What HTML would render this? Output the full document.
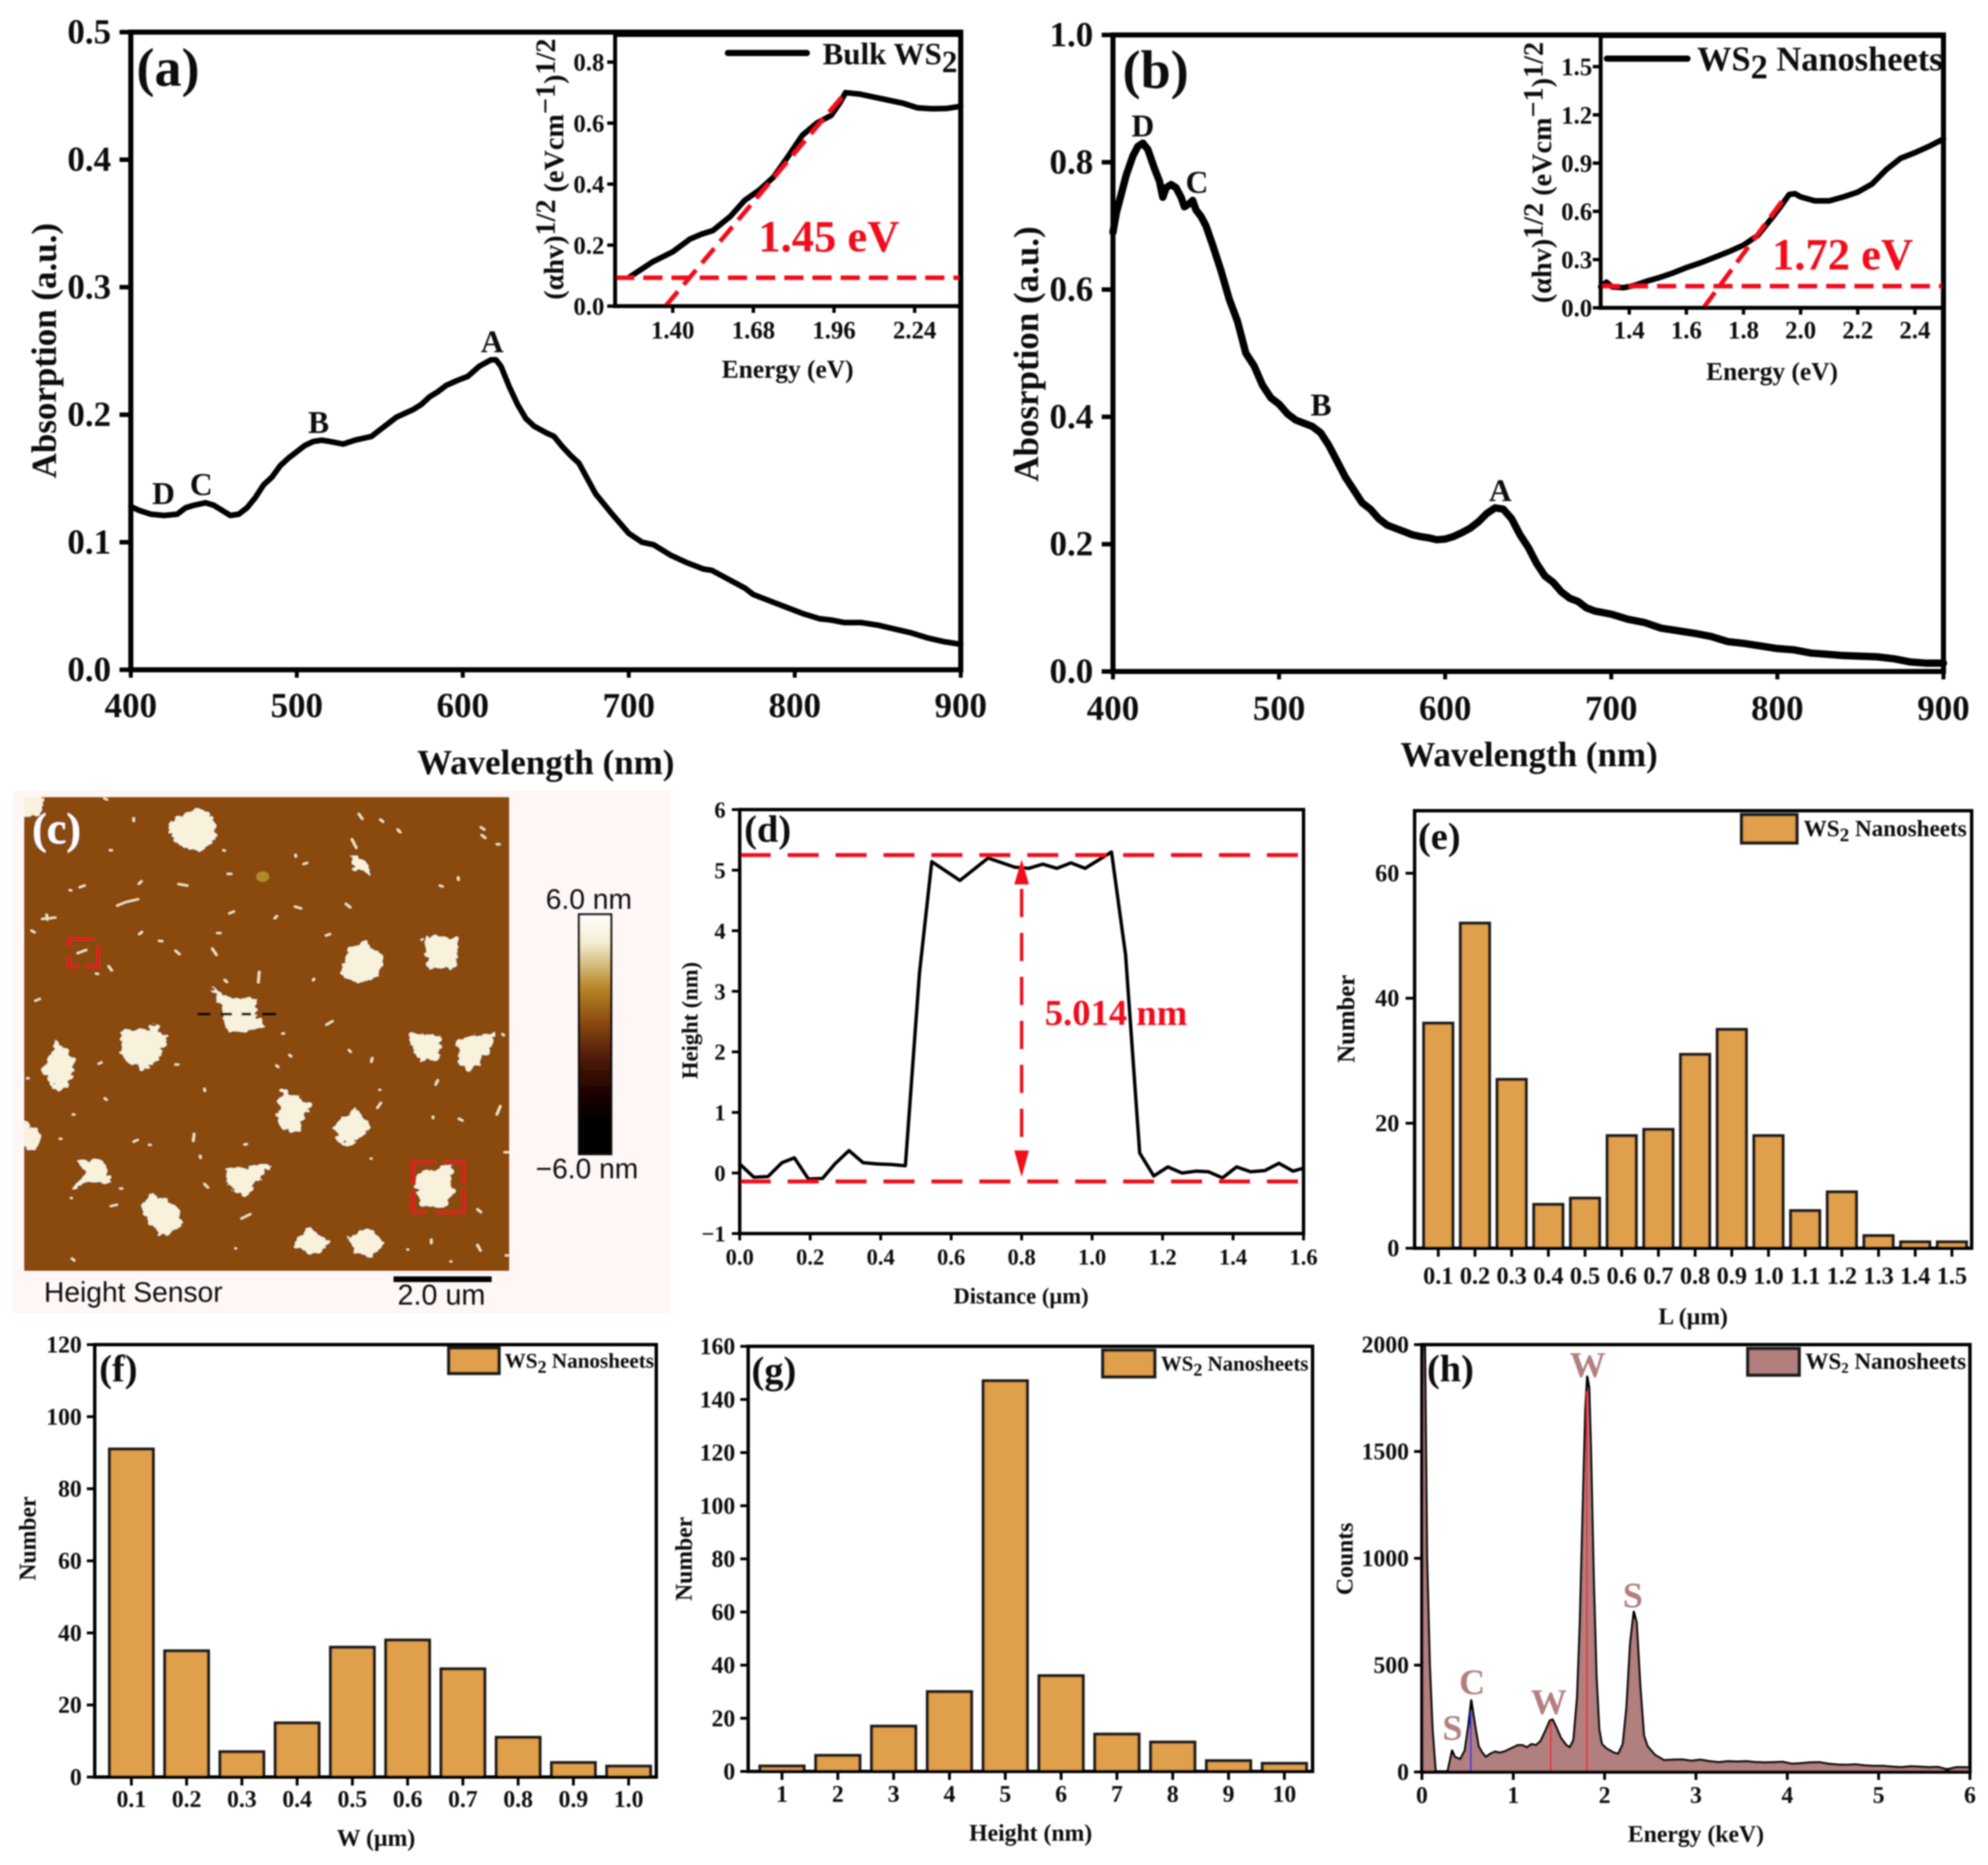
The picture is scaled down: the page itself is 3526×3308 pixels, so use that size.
<!DOCTYPE html>
<html lang="en">
<head>
<meta charset="utf-8">
<title>WS2 nanosheet characterisation figure</title>
<style>
html,body{margin:0;padding:0;background:#fff}
svg{display:block;font-family:"Liberation Serif","DejaVu Serif",serif;font-weight:700}
text{fill:#111}
.red{fill:#f0101c}
.el{fill:#b27f7f}
.sans{font-family:"Liberation Sans","DejaVu Sans",sans-serif;font-weight:400}
</style>
</head>
<body>
<svg id="figure" xmlns="http://www.w3.org/2000/svg" width="3526" height="3308" viewBox="0 0 3526 3308">
<defs>
<linearGradient id="afmScale" x1="0" y1="0" x2="0" y2="1">
<stop offset="0" stop-color="#ffffff"/><stop offset=".12" stop-color="#f3ecd0"/><stop offset=".3" stop-color="#b98a2a"/><stop offset=".45" stop-color="#8b4a0f"/><stop offset=".6" stop-color="#4f1a08"/><stop offset=".72" stop-color="#260602"/><stop offset=".85" stop-color="#000"/><stop offset="1" stop-color="#000"/>
</linearGradient>
<clipPath id="clipH"><rect x="2522" y="2385" width="972" height="758"/></clipPath>
<clipPath id="clipAfm"><rect x="43" y="1414" width="860" height="840"/></clipPath>
<filter id="soft" x="-2%" y="-2%" width="104%" height="104%"><feGaussianBlur stdDeviation="1.3"/></filter>
<filter id="jagged" x="-5%" y="-5%" width="110%" height="110%"><feTurbulence type="fractalNoise" baseFrequency="0.055" numOctaves="2" seed="4" result="n"/><feDisplacementMap in="SourceGraphic" in2="n" scale="26" xChannelSelector="R" yChannelSelector="G"/></filter>
</defs>
<rect width="3526" height="3308" fill="#fff"/>
<rect x="23" y="1402" width="1167" height="928" fill="#fff6f6"/>

<g id="root" filter="url(#soft)">

<g id="panel-a">
<text x="242" y="152" font-size="96">(a)</text>
<text x="968" y="1373" font-size="62" text-anchor="middle">Wavelength (nm)</text>
<text transform="translate(99 622) rotate(-90)" font-size="62" text-anchor="middle">Absorption (a.u.)</text>
<text x="873" y="625" font-size="56" text-anchor="middle">A</text>
<text x="565" y="768" font-size="56" text-anchor="middle">B</text>
<text x="357" y="878" font-size="56" text-anchor="middle">C</text>
<text x="290" y="894" font-size="56" text-anchor="middle">D</text>
</g>
<g id="inset-a">
<text x="1397" y="670" font-size="45" text-anchor="middle">Energy (eV)</text>
<text transform="translate(999 300) rotate(-90)" font-size="50" text-anchor="middle">(αhv)<tspan dy="-15">1/2</tspan><tspan dy="15"> (eVcm</tspan><tspan dy="-15">−1</tspan><tspan dy="15">)</tspan><tspan dy="-15">1/2</tspan></text>
<line x1="1291" y1="94" x2="1431" y2="94" stroke="#000" stroke-width="11" stroke-linecap="round"/>
<text x="1459" y="114" font-size="55">Bulk WS<tspan dy="14">2</tspan></text>
<text x="1345" y="446" font-size="79" class="red">1.45 eV</text>
</g>

<g id="panel-b">
<text x="1991" y="156" font-size="96">(b)</text>
<text x="2712" y="1359" font-size="62" text-anchor="middle">Wavelength (nm)</text>
<text transform="translate(1841 628) rotate(-90)" font-size="62" text-anchor="middle">Abosrption (a.u.)</text>
<text x="2661" y="889" font-size="56" text-anchor="middle">A</text>
<text x="2343" y="737" font-size="56" text-anchor="middle">B</text>
<text x="2123" y="342" font-size="56" text-anchor="middle">C</text>
<text x="2027" y="242" font-size="56" text-anchor="middle">D</text>
</g>
<g id="inset-b">
<text x="3143" y="674" font-size="45" text-anchor="middle">Energy (eV)</text>
<text transform="translate(2751 306) rotate(-90)" font-size="50" text-anchor="middle">(αhv)<tspan dy="-15">1/2</tspan><tspan dy="15"> (eVcm</tspan><tspan dy="-15">−1</tspan><tspan dy="15">)</tspan><tspan dy="-15">1/2</tspan></text>
<line x1="2850" y1="104" x2="2993" y2="104" stroke="#000" stroke-width="11" stroke-linecap="round"/>
<text x="3010" y="125" font-size="61">WS<tspan dy="14">2</tspan><tspan dy="-14"> Nanosheets</tspan></text>
<text x="3143" y="478" font-size="79" class="red">1.72 eV</text>
</g>

<g id="panel-c">
<rect x="43" y="1414" width="860" height="840" fill="#8a4a10"/>
<g clip-path="url(#clipAfm)">
<g transform="translate(0 1380) scale(.765 .625)">
<g fill="#f8f2dc" filter="url(#jagged)">
<polygon points="395,125 430,100 455,85 475,95 497,115 497,175 475,205 425,198 398,165"/>
<polygon points="810,218 845,230 862,278 820,255"/>
<polygon points="788,560 810,485 845,465 888,505 882,560 830,580"/>
<polygon points="982,452 1065,452 1058,538 995,543"/>
<polygon points="490,590 535,625 590,625 597,682 618,705 560,720 525,720 512,650"/>
<polygon points="282,720 345,712 358,695 388,738 372,795 330,830 282,790"/>
<polygon points="98,830 130,745 172,798 162,865 135,890"/>
<polygon points="952,722 1028,735 1012,798 975,805 950,760"/>
<polygon points="1062,740 1148,722 1132,785 1092,832 1058,802"/>
<polygon points="655,885 722,925 698,972 698,1008 655,998 638,960"/>
<polygon points="772,990 820,935 862,990 818,1042 785,1032"/>
<polygon points="50,962 100,1015 78,1058 50,1048"/>
<polygon points="178,1082 240,1088 258,1148 205,1148 168,1168 198,1125"/>
<polygon points="520,1108 622,1102 592,1155 568,1190 528,1155"/>
<polygon points="968,1125 1052,1098 1038,1150 1052,1172 1030,1222 980,1212 962,1165"/>
<polygon points="328,1212 350,1180 405,1210 428,1268 375,1298 340,1250"/>
<polygon points="688,1302 720,1272 768,1320 738,1352 688,1335"/>
<polygon points="812,1302 850,1278 892,1315 862,1362 820,1345"/>
<polygon points="50,50 100,54 90,105 50,110"/>
</g>
<circle cx="609" cy="280" r="15" fill="#b08a2a"/>
<path d="M180 497l20-9M310 114l0 8M832 102l8 14M882 118l6 6M922 146l6 8M1115 140l8 6M1117 162l8 8M1152 188l6 0M816 174l10 24M242 58l6 3M255 205l4 0M518 205l3 1M685 218l1 5M704 244l8-3M528 272l8 0M1062 282l1 7M414 301l20 4M185 310l11-5M322 300l6-7M162 318l3 1M272 362l20-10 28-8M1020 305l6 3M684 365l14 5M802 357l10 10M532 384l10-5M98 400l30-4M108 388l2 14M637 398l5-6M323 443l6-6M73 433l7 5M504 440l7 0M369 462l7 1M756 447l9-4M407 490l9 10M492 484l10 18M252 534l7 12M223 555l4 1M521 573l5 6M601 550l-2 30M728 570l-2 4M82 632l10-5M757 700l14-10M655 725l3 0M809 772l4 5M861 805l2-10M229 811l6-4M407 813l6 0M63 852l3 0M1010 870l5-12M474 882l1 6M875 936l8-14M1152 955l8-24M243 909l4 4M169 955l3 0M1064 967l8 5M1004 961l0 4M310 1032l9-5M346 1041l3 0M448 1030l2-20M139 1024l3 0M567 1040l5-1M464 1072l1 6M474 1152l8 10M279 1165l4 0M165 1192l1 0M257 1215l14-4M1107 1224l8 8M1170 1062l8 0M1107 1325l7 16M1000 1310l0 10M945 1338l1 0M546 1335l1 0M167 1364l5 5M1045 1372l1 0M1173 1355l4 0M1165 727l3 3M641 816l4 4M980 1090l1 0M671 786l4 4M860 1080l1 0M880 885l1 0M560 1250l20-12" fill="none" stroke="#f0e2b8" stroke-width="6" stroke-linecap="round"/>
<path d="M160 480V457H218M228 478V535H196M182 535H160V505" fill="none" stroke="#ee1020" stroke-width="7"/>
<path d="M957 1150V1090H1010M1028 1090H1075V1150M1075 1165V1232H1010M990 1232H957V1170" fill="none" stroke="#ee1020" stroke-width="7"/>
<path d="M458 670H488M512 670H538M560 670H582M608 670H640" fill="none" stroke="#000" stroke-width="8"/>
</g>
</g>
<text x="57" y="1496" font-size="78" style="fill:#fff">(c)</text>
<rect x="1027" y="1622" width="57" height="425" fill="url(#afmScale)" stroke="#111" stroke-width="4"/>
<text x="968" y="1612" font-size="50" class="sans">6.0 nm</text>
<text x="950" y="2090" font-size="50" class="sans">−6.0 nm</text>
<text x="78" y="2309" font-size="50" class="sans">Height Sensor</text>
<line x1="698" y1="2269" x2="872" y2="2269" stroke="#000" stroke-width="10"/>
<text x="705" y="2314" font-size="51" class="sans">2.0 um</text>
</g>

<g id="panel-d">
<text x="1320" y="1493" font-size="68">(d)</text>
<text x="1811" y="2312" font-size="40" text-anchor="middle">Distance (µm)</text>
<text transform="translate(1237 1810) rotate(-90)" font-size="40" text-anchor="middle">Height (nm)</text>
<text x="1853" y="1818" font-size="65" class="red">5.014 nm</text>
</g>

<g id="panel-e">
<text x="2515" y="1506" font-size="68">(e)</text>
<text x="3003" y="2349" font-size="42" text-anchor="middle">L (µm)</text>
<text transform="translate(2402 1807) rotate(-90)" font-size="44" text-anchor="middle">Number</text>
<rect x="3089" y="1445" width="98" height="50" fill="#e09f4c" stroke="#1a1a1a" stroke-width="6"/>
<text x="3199" y="1483" font-size="41">WS<tspan dy="9" font-size="34">2</tspan><tspan dy="-9"> Nanosheets</tspan></text>
</g>

<g id="panel-f">
<text x="176" y="2450" font-size="68">(f)</text>
<text x="667" y="3274" font-size="42" text-anchor="middle">W (µm)</text>
<text transform="translate(63 2729) rotate(-90)" font-size="42" text-anchor="middle">Number</text>
<rect x="796" y="2391" width="89" height="45" fill="#e09f4c" stroke="#1a1a1a" stroke-width="6"/>
<text x="895" y="2426" font-size="37.5">WS<tspan dy="9" font-size="32">2</tspan><tspan dy="-9"> Nanosheets</tspan></text>
</g>

<g id="panel-g">
<text x="1333" y="2453" font-size="68">(g)</text>
<text x="1828" y="3265" font-size="42" text-anchor="middle">Height (nm)</text>
<text transform="translate(1227 2765) rotate(-90)" font-size="42" text-anchor="middle">Number</text>
<rect x="1956" y="2395" width="92" height="47" fill="#e09f4c" stroke="#1a1a1a" stroke-width="6"/>
<text x="2059" y="2431" font-size="37">WS<tspan dy="9" font-size="32">2</tspan><tspan dy="-9"> Nanosheets</tspan></text>
</g>

<g id="panel-h">
<text x="2531" y="2450" font-size="68">(h)</text>
<text x="3008" y="3267" font-size="42" text-anchor="middle">Energy (keV)</text>
<text transform="translate(2399 2765) rotate(-90)" font-size="42" text-anchor="middle">Counts</text>
<rect x="3100" y="2392" width="91" height="47" fill="#b27f7f" stroke="#1a1a1a" stroke-width="6"/>
<text x="3202" y="2428" font-size="41">WS<tspan dy="7" font-size="26">2</tspan><tspan dy="-7"> Nanosheets</tspan></text>
<g id="h-labels">
<text x="2816" y="2442" font-size="64" text-anchor="middle" class="el">W</text>
<text x="2896" y="2851" font-size="64" text-anchor="middle" class="el">S</text>
<text x="2611" y="3005" font-size="64" text-anchor="middle" class="el">C</text>
<text x="2747" y="3040" font-size="64" text-anchor="middle" class="el">W</text>
<text x="2576" y="3086" font-size="64" text-anchor="middle" class="el">S</text>
</g>
</g>
</g>

<script>
// ---------- Panel (a) ----------
const aXLabels=['400','500','600','700','800','900'];
const aYLabels=['0.0','0.1','0.2','0.3','0.4','0.5'];
const aWavelength=[400,405,412,420,428,433,438,445,450,455,460,465,470,475,480,485,490,495,500,505,510,515,520,528,535,545,550,555,560,570,575,580,585,590,597,603,610,617,620,623,628,633,638,643,650,655,660,665,670,675,680,690,700,708,715,725,735,745,750,760,770,775,785,795,805,815,822,830,840,850,860,870,880,890,900];
const aAbsorption=[.128,.125,.122,.121,.122,.127,.129,.131,.129,.125,.121,.122,.127,.135,.145,.151,.160,.166,.171,.176,.179,.180,.179,.177,.180,.183,.188,.193,.198,.204,.208,.214,.218,.223,.227,.230,.238,.243,.243,.238,.222,.208,.197,.191,.186,.183,.175,.168,.162,.150,.138,.122,.107,.100,.098,.090,.084,.079,.078,.071,.064,.059,.054,.049,.044,.040,.039,.037,.037,.035,.032,.029,.025,.022,.020];
const aInsetXLabels=['1.40','1.68','1.96','2.24'];
const aInsetYLabels=['0.0','0.2','0.4','0.6','0.8'];
const aInsetEnergy=[1.25,1.33,1.4,1.46,1.5,1.54,1.6,1.65,1.7,1.75,1.8,1.85,1.9,1.95,1.98,2.0,2.05,2.1,2.15,2.2,2.25,2.3,2.35,2.4];
const aInsetTauc=[.095,.145,.178,.22,.236,.248,.294,.347,.38,.423,.49,.56,.6,.625,.666,.7,.695,.685,.675,.665,.65,.647,.648,.655];
const aInsetBaseline=[.093];
const aInsetFitE=[1.375,2.0];
const aInsetFitY=[0,.7];
// ---------- Panel (b) ----------
const bXLabels=['400','500','600','700','800','900'];
const bYLabels=['0.0','0.2','0.4','0.6','0.8','1.0'];
const bWavelength=[400,402,405,408,412,415,418,421,425,428,430,432,435,438,441,443,446,448,450,453,456,460,465,470,475,480,485,490,495,500,505,510,515,520,525,530,535,540,545,550,555,560,565,570,575,580,585,590,595,600,605,610,615,620,625,630,635,640,645,650,655,660,665,670,675,680,685,690,700,710,720,730,740,750,760,770,780,790,800,810,820,830,840,850,860,870,880,890,900];
const bAbsorption=[.69,.72,.75,.78,.81,.825,.83,.82,.79,.77,.745,.76,.765,.76,.745,.73,.735,.74,.725,.715,.7,.67,.63,.585,.55,.5,.48,.45,.43,.42,.405,.395,.39,.385,.375,.355,.33,.305,.285,.265,.255,.24,.23,.225,.22,.215,.212,.21,.207,.208,.212,.218,.225,.235,.248,.257,.255,.24,.215,.195,.17,.15,.14,.125,.115,.11,.1,.095,.09,.082,.077,.068,.064,.06,.055,.047,.044,.04,.036,.034,.029,.027,.025,.024,.023,.02,.015,.013,.013];
const bInsetXLabels=['1.4','1.6','1.8','2.0','2.2','2.4'];
const bInsetYLabels=['0.0','0.3','0.6','0.9','1.2','1.5'];
const bInsetEnergy=[1.3,1.32,1.34,1.38,1.42,1.46,1.5,1.55,1.6,1.65,1.7,1.75,1.8,1.85,1.9,1.93,1.96,1.98,2.0,2.05,2.1,2.15,2.2,2.25,2.3,2.35,2.4,2.45,2.5];
const bInsetTauc=[.13,.16,.13,.125,.14,.165,.185,.215,.25,.28,.315,.35,.39,.45,.56,.63,.705,.71,.69,.665,.665,.69,.72,.77,.86,.93,.965,1.005,1.05];
const bInsetBaseline=[.135];
const bInsetFitE=[1.66,1.95];
const bInsetFitY=[0,.7];
// ---------- Panel (d) ----------
const dXLabels=['0.0','0.2','0.4','0.6','0.8','1.0','1.2','1.4','1.6'];
const dYLabels=['−1','0','1','2','3','4','5','6'];
const dDistance=[0,.04,.08,.12,.155,.195,.235,.27,.31,.35,.39,.43,.47,.51,.545,.625,.705,.78,.82,.86,.9,.94,.98,1.055,1.095,1.135,1.175,1.215,1.255,1.295,1.33,1.37,1.41,1.45,1.49,1.53,1.57,1.6];
const dHeight=[.15,-.07,-.06,.17,.25,-.1,-.09,.15,.37,.17,.15,.14,.12,3.3,5.14,4.83,5.2,5.05,5.03,5.1,5.03,5.12,5.03,5.3,3.6,.33,-.05,.1,0,.03,.02,-.08,.1,.02,.04,.16,.03,.08];
const dLevels=[5.25,-.14];
const dArrowAt=[.8];
// ---------- Panel (e) ----------
const eCategories=['0.1','0.2','0.3','0.4','0.5','0.6','0.7','0.8','0.9','1.0','1.1','1.2','1.3','1.4','1.5'];
const eCounts=[36,52,27,7,8,18,19,31,35,18,6,9,2,1,1];
const eYLabels=['0','20','40','60'];
// ---------- Panel (f) ----------
const fCategories=['0.1','0.2','0.3','0.4','0.5','0.6','0.7','0.8','0.9','1.0'];
const fCounts=[91,35,7,15,36,38,30,11,4,3];
const fYLabels=['0','20','40','60','80','100','120'];
// ---------- Panel (g) ----------
const gCategories=['1','2','3','4','5','6','7','8','9','10'];
const gCounts=[2,6,17,30,147,36,14,11,4,3];
const gYLabels=['0','20','40','60','80','100','120','140','160'];
// ---------- Panel (h) ----------
const hXLabels=['0','1','2','3','4','5','6'];
const hYLabels=['0','500','1000','1500','2000'];
const hEnergy=[0,.03,.055,.085,.115,.15,.28,.33,.36,.42,.47,.51,.54,.58,.62,.66,.7,.75,.8,.85,.9,1,1.05,1.1,1.15,1.2,1.25,1.3,1.35,1.4,1.43,1.47,1.52,1.58,1.62,1.66,1.7,1.73,1.76,1.79,1.81,1.83,1.85,1.88,1.91,1.94,1.97,2.02,2.1,2.15,2.2,2.24,2.28,2.32,2.35,2.39,2.43,2.47,2.55,2.65,2.75,2.85,2.95,3.05,3.15,3.25,3.35,3.45,3.55,3.65,3.75,3.85,3.95,4.05,4.15,4.25,4.35,4.45,4.55,4.65,4.75,4.85,4.95,5.05,5.15,5.25,5.35,5.45,5.55,5.65,5.75,5.85,5.95,6];
const hCounts=[2100,2100,1000,500,200,0,0,100,70,60,100,220,335,220,120,90,70,85,95,90,95,115,125,125,115,130,125,145,190,240,245,210,160,125,115,150,350,700,1200,1700,1850,1800,1500,900,450,200,130,110,90,85,130,300,600,750,700,400,170,120,80,55,57,58,52,57,50,45,50,48,50,46,44,45,47,38,40,44,45,38,34,33,35,30,28,28,24,22,26,24,22,23,12,22,22,20];
const hPeakEnergies=[.535,1.41,1.805];
const hPeakTops=[280,235,1780];

const NS='http://www.w3.org/2000/svg';
function node(parent,tag,attrs){
  const el=document.createElementNS(NS,tag);
  for(const k in attrs){el.setAttribute(k,attrs[k]);}
  parent.appendChild(el);
  return el;
}
function scale(d0,d1,r0,r1){return v=>r0+(v-d0)*(r1-r0)/(d1-d0);}
function num(s){return parseFloat(String(s).replace('−','-'));}
function poly(xs,ys,sx,sy){return xs.map((x,i)=>sx(x).toFixed(1)+','+sy(ys[i]).toFixed(1)).join(' ');}

function tickY(parent,labels,sy,x0,opt,prefix){
  labels.forEach(l=>{
    const y=sy(num(l));
    const t=node(parent,'line',{x1:x0-opt.len,x2:x0,y1:y,y2:y,stroke:'#000','stroke-width':opt.sw});
    
    
    const el=node(parent,'text',{x:opt.end,y:y+opt.dy,'font-size':opt.fs,'text-anchor':'end'});
    el.textContent=l;
    
    
  });
}
function tickX(parent,labels,sx,y0,opt,prefix){
  labels.forEach(l=>{
    const x=sx(num(l));
    const t=node(parent,'line',{x1:x,x2:x,y1:y0,y2:y0+opt.len,stroke:'#000','stroke-width':opt.sw});
    
    
    const el=node(parent,'text',{x:x,y:opt.base,'font-size':opt.fs,'text-anchor':'middle'});
    el.textContent=l;
    
    
  });
}
function frame(parent,l,t,r,b,sw,prefix){
  const el=node(parent,'rect',{x:l,y:t,width:r-l,height:b-t,fill:'none',stroke:'#000','stroke-width':sw});
  
  
}
function curve(parent,xs,ys,sx,sy,sw,name){
  const el=node(parent,'polyline',{points:poly(xs,ys,sx,sy),fill:'none',stroke:'#000','stroke-width':sw,'stroke-linejoin':'round','stroke-linecap':'round'});
  
  
}
function dashed(parent,x1,y1,x2,y2,sw,dash,name){
  const el=node(parent,'line',{x1:x1,y1:y1,x2:x2,y2:y2,stroke:'#f0101c','stroke-width':sw,'stroke-dasharray':dash});
  
  
}
function histogram(parent,cats,counts,yLabels,box,ymax,cat0,catN,prefix,tick){
  const sx=scale(num(cats[0]),num(cats[cats.length-1]),cat0,catN);
  const sy=scale(0,ymax,box.b,box.t);
  const step=(catN-cat0)/(cats.length-1);
  counts.forEach((v,i)=>{
    const cx=sx(num(cats[i])),w=step*.79;
    const bar=node(parent,'rect',{x:cx-w/2,y:sy(v),width:w,height:box.b-sy(v),fill:'#e09f4c',stroke:'#1a1a1a','stroke-width':5.5});
    
    
  });
  tickY(parent,yLabels,sy,box.l,tick.y,prefix);
  tickX(parent,cats,sx,box.b,tick.x,prefix);
  frame(parent,box.l,box.t,box.r,box.b,6,prefix);
}

// Panel (a)
(function(){
  const g=document.getElementById('panel-a');
  const sx=scale(400,900,232,1704),sy=scale(0,.5,1188,57);
  curve(g,aWavelength,aAbsorption,sx,sy,10,'bulk-ws2-absorption-curve');
  tickY(g,aYLabels,sy,232,{len:20,sw:8,end:197,dy:20,fs:62},'panel-a');
  tickX(g,aXLabels,sx,1188,{len:14,sw:7,base:1272,fs:62},'panel-a');
  frame(g,232,57,1704,1188,9,'panel-a');
  const ig=document.getElementById('inset-a');
  const ix=scale(1.2,2.4,1091,1704),iy=scale(0,.889,543,62);
  curve(ig,aInsetEnergy,aInsetTauc,ix,iy,10,'bulk-ws2-tauc-curve');
  dashed(ig,1091,iy(aInsetBaseline[0]),1704,iy(aInsetBaseline[0]),8,'34 16','inset-a-baseline');
  dashed(ig,ix(aInsetFitE[0]),iy(aInsetFitY[0]),ix(aInsetFitE[1]),iy(aInsetFitY[1]),8,'34 16','inset-a-tangent');
  tickY(ig,aInsetYLabels,iy,1091,{len:14,sw:6,end:1072,dy:15,fs:44},'inset-a');
  tickX(ig,aInsetXLabels,ix,543,{len:12,sw:6,base:600,fs:44},'inset-a');
  frame(ig,1091,62,1704,543,7,'inset-a');
})();

// Panel (b)
(function(){
  const g=document.getElementById('panel-b');
  const sx=scale(400,900,1974,3447),sy=scale(0,1,1191,62);
  curve(g,bWavelength,bAbsorption,sx,sy,13,'ws2-nanosheet-absorption-curve');
  tickY(g,bYLabels,sy,1974,{len:20,sw:8,end:1939,dy:20,fs:62},'panel-b');
  tickX(g,bXLabels,sx,1191,{len:14,sw:7,base:1277,fs:62},'panel-b');
  frame(g,1974,62,3447,1191,9,'panel-b');
  const ig=document.getElementById('inset-b');
  const ix=scale(1.3,2.5,2839,3447),iy=scale(0,1.69,546,64);
  curve(ig,bInsetEnergy,bInsetTauc,ix,iy,10,'ws2-nanosheet-tauc-curve');
  dashed(ig,2839,iy(bInsetBaseline[0]),3447,iy(bInsetBaseline[0]),8,'34 16','inset-b-baseline');
  dashed(ig,ix(bInsetFitE[0]),iy(bInsetFitY[0]),ix(bInsetFitE[1]),iy(bInsetFitY[1]),8,'34 16','inset-b-tangent');
  tickY(ig,bInsetYLabels,iy,2839,{len:14,sw:6,end:2824,dy:15,fs:44},'inset-b');
  tickX(ig,bInsetXLabels,ix,546,{len:12,sw:6,base:600,fs:44},'inset-b');
  frame(ig,2839,64,3447,546,7,'inset-b');
})();

// Panel (d)
(function(){
  const g=document.getElementById('panel-d');
  const sx=scale(0,1.6,1312,2312),sy=scale(-1,6,2188,1436);
  curve(g,dDistance,dHeight,sx,sy,6,'height-profile-curve');
  dLevels.forEach((v,i)=>{
    dashed(g,1312,sy(v),2312,sy(v),7,'55 30',i===0?'top-level-line':'bottom-level-line');
  });
  const ax=sx(dArrowAt[0]);
  dashed(g,ax,sy(dLevels[0])+60,ax,sy(dLevels[1])-60,6,'50 28','height-arrow-shaft');
  const up=node(g,'polygon',{points:ax+','+(sy(dLevels[0])+8)+' '+(ax-13)+','+(sy(dLevels[0])+52)+' '+(ax+13)+','+(sy(dLevels[0])+52),fill:'#f0101c'});
  
  
  const dn=node(g,'polygon',{points:ax+','+(sy(dLevels[1])-8)+' '+(ax-13)+','+(sy(dLevels[1])-55)+' '+(ax+13)+','+(sy(dLevels[1])-55),fill:'#f0101c'});
  
  
  tickY(g,dYLabels,sy,1312,{len:14,sw:5,end:1287,dy:14,fs:40},'panel-d');
  tickX(g,dXLabels,sx,2188,{len:12,sw:5,base:2243,fs:40},'panel-d');
  frame(g,1312,1436,2312,2188,6,'panel-d');
})();

// Histograms
histogram(document.getElementById('panel-e'),eCategories,eCounts,eYLabels,{l:2509,t:1438,r:3497,b:2214},70,2551,3462,'panel-e',{y:{len:16,sw:5,end:2482,dy:14,fs:43},x:{len:15,sw:5,base:2277,fs:43}});
histogram(document.getElementById('panel-f'),fCategories,fCounts,fYLabels,{l:168,t:2385,r:1164,b:3152},120,233,1115,'panel-f',{y:{len:14,sw:5,end:145,dy:14,fs:42},x:{len:15,sw:5,base:3205,fs:42}});
histogram(document.getElementById('panel-g'),gCategories,gCounts,gYLabels,{l:1327,t:2388,r:2328,b:3142},160,1387,2278,'panel-g',{y:{len:14,sw:5,end:1304,dy:14,fs:42},x:{len:15,sw:5,base:3196,fs:42}});

// Panel (h)
(function(){
  const g=document.getElementById('panel-h');
  const labels=document.getElementById('h-labels');
  const sx=scale(0,6,2522,3494),sy=scale(0,2000,3143,2385);
  const wrap=node(g,'g',{'clip-path':'url(#clipH)'});
  
  
  const area=node(wrap,'polygon',{points:sx(hEnergy[0])+','+sy(0)+' '+poly(hEnergy,hCounts,sx,sy)+' '+sx(6)+','+sy(0),fill:'#b27f7f'});
  
  
  curve(wrap,hEnergy,hCounts,sx,sy,4,'eds-spectrum-line');
  hPeakEnergies.forEach((e,i)=>{
    const l=node(wrap,'line',{x1:sx(e),x2:sx(e),y1:sy(0),y2:sy(hPeakTops[i]),stroke:i===0?'#2030e0':'#e8202c','stroke-width':3});
    
    
  });
  g.appendChild(labels);
  tickY(g,hYLabels,sy,2522,{len:14,sw:5,end:2499,dy:14,fs:42},'panel-h');
  tickX(g,hXLabels,sx,3143,{len:14,sw:5,base:3198,fs:42},'panel-h');
  frame(g,2522,2385,3494,3143,6,'panel-h');
})();
</script>
</svg>
</body>
</html>
